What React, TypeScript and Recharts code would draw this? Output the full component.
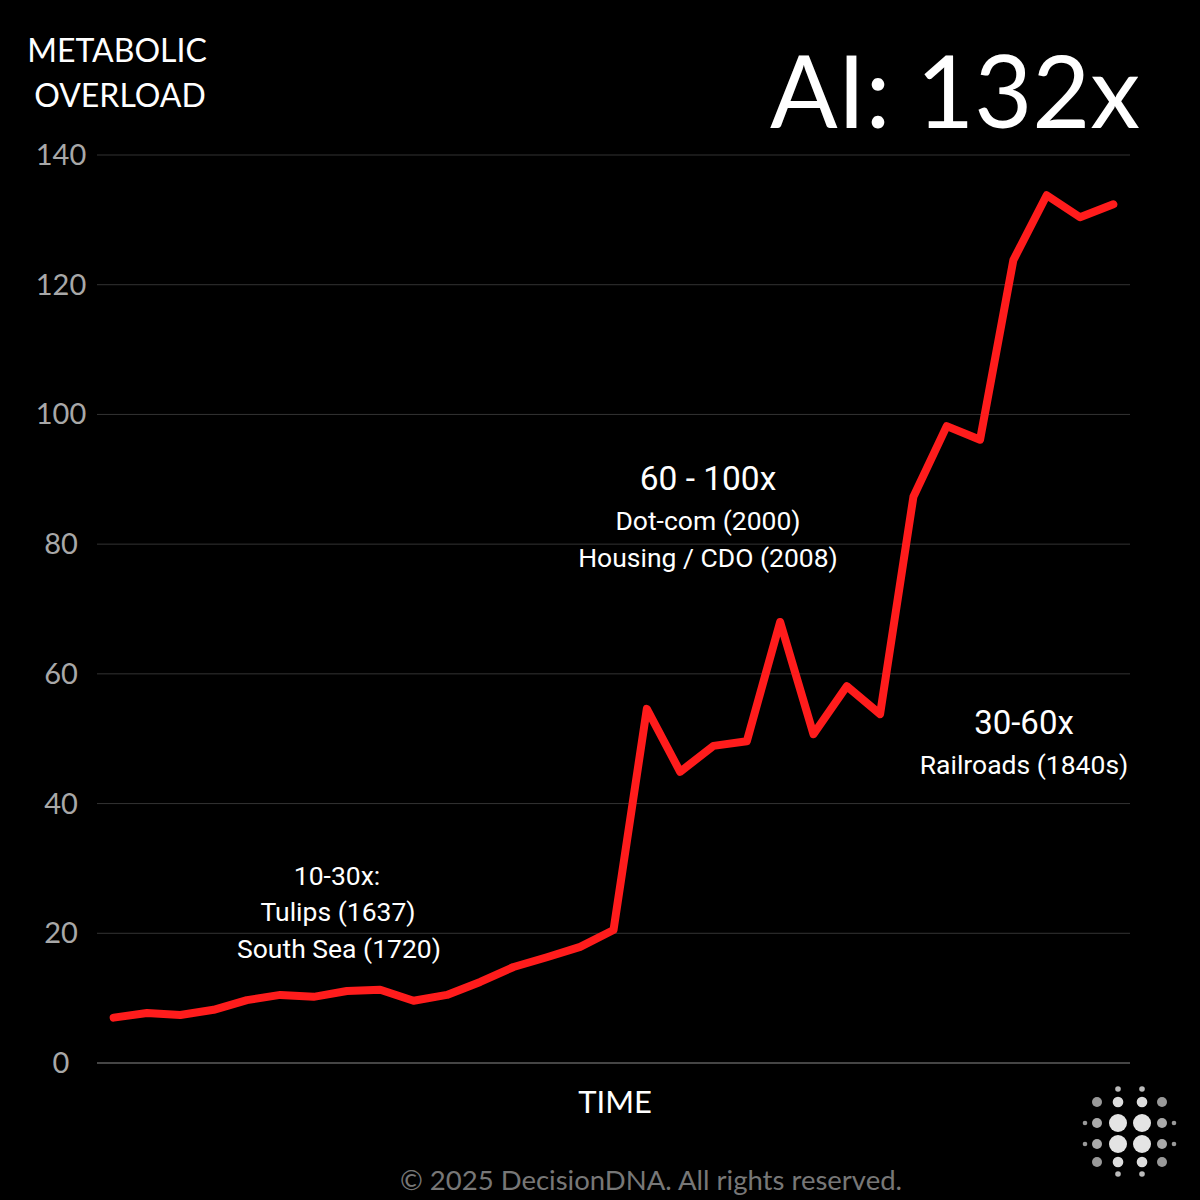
import { LineChart, Line, XAxis, YAxis, CartesianGrid } from "recharts";

// one value per period
const overload = [
  7.0, 7.7, 7.4, 8.2, 9.7, 10.5, 10.2, 11.1, 11.3, 9.6, 10.5, 12.5, 14.8, 16.3, 17.9, 20.5,
  54.6, 44.9, 48.9, 49.6, 68.0, 50.7, 58.1, 53.8, 87.3, 98.2, 96.1, 123.8, 133.8, 130.4, 132.4,
];
const yTicks = [0, 20, 40, 60, 80, 100, 120, 140];

const data = overload.map((v, i) => ({ t: i, v }));

const futura = "Lato, 'Noto Sans', sans-serif";
const roboto = "Roboto, sans-serif";

function YTick(props: any) {
  const { y, payload } = props;
  return (
    <text x={61} y={y} dy={10} textAnchor="middle" fill="#a8a8a8" fontSize={29} fontFamily={futura}>
      {payload.value}
    </text>
  );
}

// logo dots: [x, y, r, fill]
const dots: [number, number, number, string][] = [
  [1118, 1089, 2.8, "#bbb"], [1142, 1089, 2.8, "#bbb"],
  [1097, 1102, 5, "#999"], [1118, 1102, 5.3, "#ddd"], [1142, 1102, 5.3, "#ddd"], [1162, 1102, 5, "#999"],
  [1085, 1123, 2.3, "#999"], [1097, 1123, 5, "#aaa"], [1118, 1123, 9, "#e4e4e4"], [1142, 1123, 9, "#e4e4e4"], [1162, 1123, 5, "#aaa"], [1174, 1123, 2.3, "#999"],
  [1085, 1144, 2.3, "#999"], [1097, 1144, 5, "#aaa"], [1118, 1144, 9, "#e4e4e4"], [1142, 1144, 9, "#e4e4e4"], [1162, 1144, 5, "#aaa"], [1174, 1144, 2.3, "#999"],
  [1097, 1162, 5, "#999"], [1118, 1162, 5.3, "#ddd"], [1142, 1162, 5.3, "#ddd"], [1162, 1162, 5, "#999"],
  [1118, 1174, 2.8, "#bbb"], [1142, 1174, 2.8, "#bbb"],
];

export default function App() {
  return (
    <div style={{ position: "fixed", left: 0, top: 0, width: 1200, height: 1200, background: "#000", overflow: "hidden" }}>
      <LineChart width={1200} height={1200} data={data} margin={{ top: 155, right: 70, bottom: 137, left: 0 }}>
        <CartesianGrid vertical={false} stroke="#333" strokeWidth={1} />
        <XAxis dataKey="t" type="number" domain={[-0.5, 30.5]} hide />
        <YAxis
          domain={[0, 140]}
          ticks={yTicks}
          axisLine={false}
          tickLine={false}
          tick={<YTick />}
          width={97}
        />
        <Line
          type="linear"
          dataKey="v"
          stroke="#ff1c1c"
          strokeWidth={8}
          strokeLinejoin="round"
          strokeLinecap="round"
          dot={false}
          isAnimationActive={false}
        />
      </LineChart>

      <svg width={1200} height={1200} style={{ position: "absolute", left: 0, top: 0, pointerEvents: "none" }}>
        <line x1={97} x2={1130} y1={1063} y2={1063} stroke="#555" strokeWidth={1.5} />
        <text x={117} y={62} textAnchor="middle" fill="#fff" fontSize={32} fontFamily={futura}>METABOLIC</text>
        <text x={120} y={107} textAnchor="middle" fill="#fff" fontSize={32} fontFamily={futura}>OVERLOAD</text>
        <text x={1140} y={128} textAnchor="end" fill="#fff" fontSize={100} fontFamily={futura}>AI: 132x</text>

        <text x={337} y={885} textAnchor="middle" fill="#fff" fontSize={26.5} fontFamily={roboto}>10-30x:</text>
        <text x={338} y={921} textAnchor="middle" fill="#fff" fontSize={26.5} fontFamily={roboto}>Tulips (1637)</text>
        <text x={339} y={958} textAnchor="middle" fill="#fff" fontSize={26.5} fontFamily={roboto}>South Sea (1720)</text>

        <text x={708} y={490} textAnchor="middle" fill="#fff" fontSize={33.5} fontFamily={roboto}>60 - 100x</text>
        <text x={708} y={530} textAnchor="middle" fill="#fff" fontSize={26.5} fontFamily={roboto}>Dot-com (2000)</text>
        <text x={708} y={567} textAnchor="middle" fill="#fff" fontSize={26.5} fontFamily={roboto}>Housing / CDO (2008)</text>

        <text x={1024} y={734} textAnchor="middle" fill="#fff" fontSize={33} fontFamily={roboto}>30-60x</text>
        <text x={1024} y={774} textAnchor="middle" fill="#fff" fontSize={26.5} fontFamily={roboto}>Railroads (1840s)</text>

        <text x={615} y={1113} textAnchor="middle" fill="#fff" fontSize={31} fontFamily={futura}>TIME</text>
        <text x={651} y={1190} textAnchor="middle" fill="#777" fontSize={27.5} fontFamily={futura}>© 2025 DecisionDNA. All rights reserved.</text>

        {dots.map(([x, y, r, c], i) => (
          <circle key={i} cx={x} cy={y} r={r} fill={c} />
        ))}
      </svg>
    </div>
  );
}
